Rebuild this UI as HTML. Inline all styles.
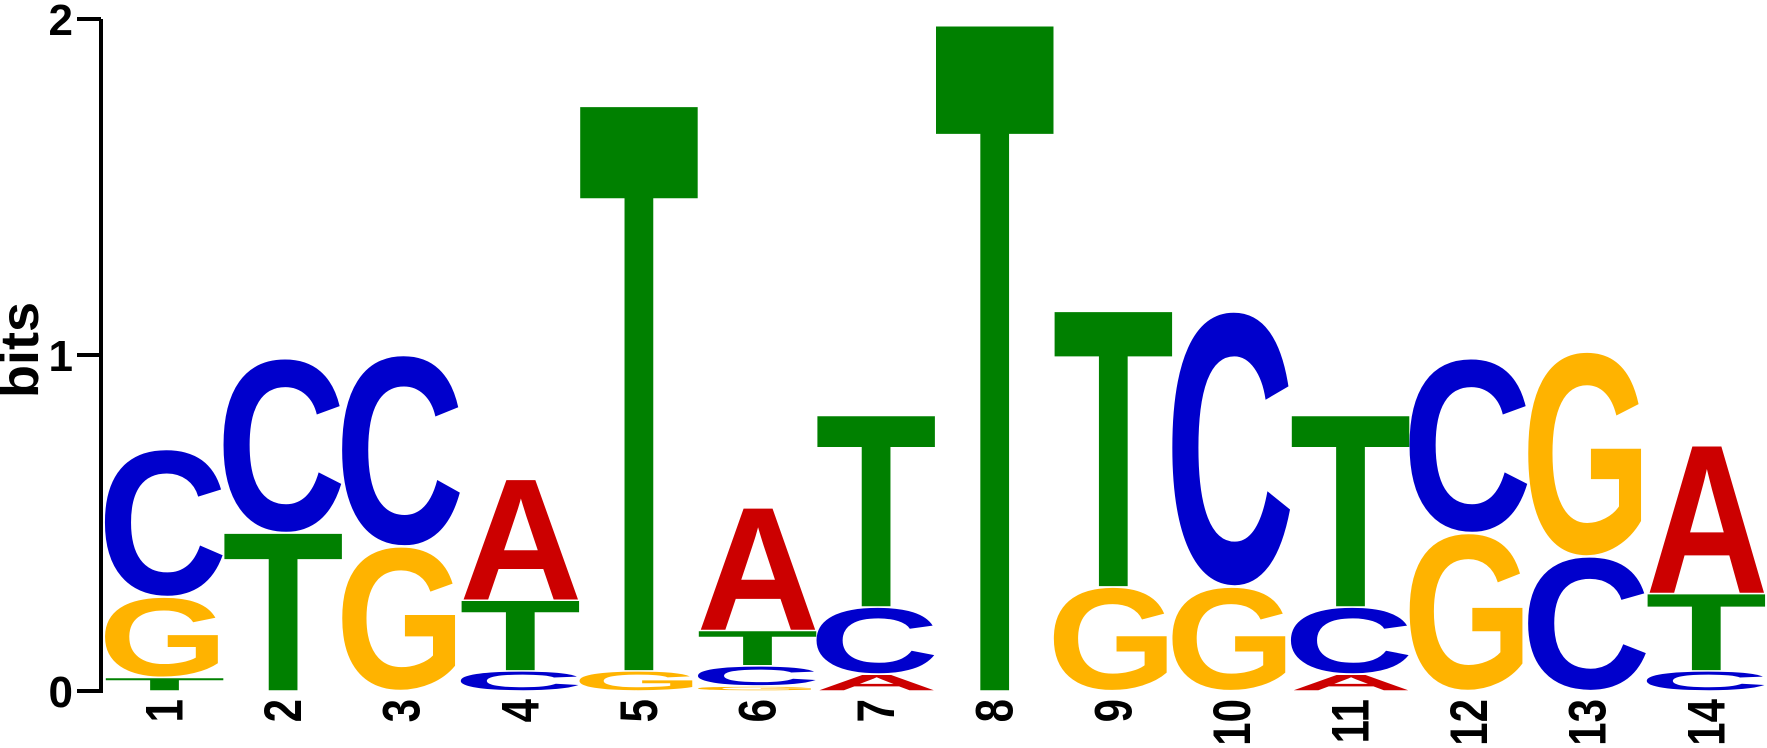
<!DOCTYPE html>
<html><head><meta charset="utf-8"><style>
html,body{margin:0;padding:0;background:#fff;overflow:hidden;}
svg{display:block;font-family:"Liberation Sans",sans-serif;font-weight:bold;}
</style></head><body>
<svg id="chart" width="1767" height="748" viewBox="0 0 1767 748" xmlns="http://www.w3.org/2000/svg">
  <g id="axis">
    <line x1="101" y1="19" x2="101" y2="693" stroke="#000" stroke-width="4"/>
  </g>
  <g id="letters"></g>
  <g id="xlabels"></g>
  <text x="38" y="350" font-size="54" text-anchor="middle" transform="rotate(-90 38 350)">bits</text>
</svg>
<script>
const positions = ["1","2","3","4","5","6","7","8","9","10","11","12","13","14"];
const stackLetters = [
  ["T","G","C"],["T","C"],["G","C"],["C","T","A"],["G","T"],["G","C","T","A"],["A","C","T"],
  ["T"],["G","T"],["G","C"],["A","C","T"],["G","C"],["C","G"],["C","T","A"]
];
const stackBits = [
  [0.04,0.24,0.44],[0.47,0.52],[0.43,0.57],[0.06,0.21,0.36],[0.06,1.68],[0.015,0.06,0.105,0.365],[0.05,0.2,0.57],
  [1.98],[0.31,0.82],[0.31,0.82],[0.05,0.2,0.57],[0.47,0.52],[0.4,0.61],[0.06,0.23,0.44]
];
const yTicks = [0,1,2];

const NS = "http://www.w3.org/2000/svg";
const Y0 = 691, PXB = 336, X0 = 106, CW = 118.6, LW = 117;
const yScale = v => Y0 - v * PXB;
const xScale = i => X0 + i * CW;
const colors = {A:"#CC0000", C:"#0000CC", G:"#FFB300", T:"#008000"};
const lsb = {A:0.02, C:0.065, G:0.06, T:0.02};
const ink = {A:0.95, C:0.9, G:0.9, T:0.96};
const capH = {A:68.8, T:68.8, C:71.2, G:71.2};
const under = {A:0, T:0, C:1.2, G:1.2};

const axis = document.getElementById('axis');
yTicks.forEach(t => {
  const y = yScale(t);
  const ln = document.createElementNS(NS,'line');
  ln.setAttribute('x1',77); ln.setAttribute('x2',101);
  ln.setAttribute('y1',y); ln.setAttribute('y2',y);
  ln.setAttribute('stroke','#000'); ln.setAttribute('stroke-width',4);
  
  
  axis.appendChild(ln);
  const tx = document.createElementNS(NS,'text');
  tx.setAttribute('x',73); tx.setAttribute('y',y+16);
  tx.setAttribute('font-size',44); tx.setAttribute('text-anchor','end');
  tx.textContent = String(t);
  
  
  axis.appendChild(tx);
});

const g = document.getElementById('letters');
stackLetters.forEach((letters, i) => {
  let cum = 0;
  const x = xScale(i);
  letters.forEach((L, j) => {
    const h = stackBits[i][j];
    const yb = yScale(cum) - 0.75;
    const yt = yScale(cum + h) + 0.75;
    cum += h;
    const ph = Math.max(yb - yt, 0.5);
    const tl = LW / ink[L];
    const t = document.createElementNS(NS,'text');
    t.setAttribute('x', 0); t.setAttribute('y', 0);
    t.setAttribute('font-size', 100);
    t.setAttribute('textLength', tl);
    t.setAttribute('lengthAdjust', 'spacingAndGlyphs');
    t.setAttribute('fill', colors[L]);
    const sy = ph / capH[L];
    const ox = x - tl * lsb[L];
    const by = yb - under[L] * sy;
    t.setAttribute('transform', `translate(${ox},${by}) scale(1,${sy})`);
    t.textContent = L;
    
    
    g.appendChild(t);
  });
});

const xl = document.getElementById('xlabels');
positions.forEach((p, i) => {
  const cx = xScale(i) + LW / 2 + 18;
  const t = document.createElementNS(NS,'text');
  t.setAttribute('x', 0); t.setAttribute('y', 0);
  t.setAttribute('font-size', 42);
  t.setAttribute('text-anchor', 'end');
  t.setAttribute('transform', `translate(${cx},699) rotate(-90) scale(1,1.25)`);
  t.textContent = p;
  
  
  xl.appendChild(t);
});
</script>
</body></html>
